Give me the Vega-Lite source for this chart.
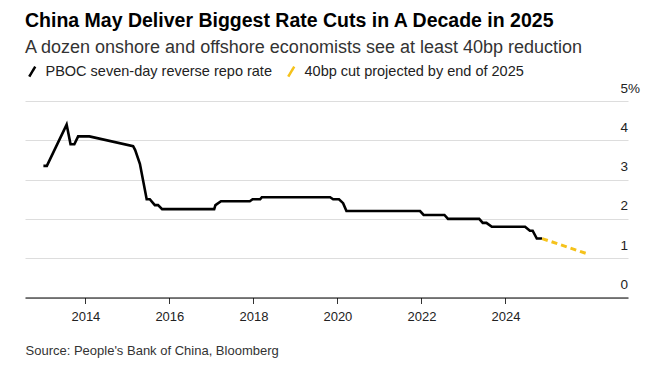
{
  "$schema": "https://vega.github.io/schema/vega-lite/v6.json",
  "width": 603,
  "height": 196.5,
  "autosize": {"type": "none"},
  "padding": {"left": 25, "top": 101, "right": 25, "bottom": 84.5},
  "background": "white",
  "title": {
    "text": "China May Deliver Biggest Rate Cuts in A Decade in 2025",
    "subtitle": "A dozen onshore and offshore economists see at least 40bp reduction",
    "anchor": "start",
    "frame": "group",
    "font": "Liberation Sans",
    "fontSize": 19.5,
    "fontWeight": "bold",
    "color": "#000000",
    "subtitleFont": "Liberation Sans",
    "subtitleFontSize": 18,
    "subtitleColor": "#333333",
    "subtitlePadding": 8,
    "offset": 6
  },
  "config": {
    "view": {"stroke": null},
    "font": "Liberation Sans"
  },
  "datasets": {
    "rates": [
      {"date": "2013-01-01", "rate": 3.35, "series": "PBOC seven-day reverse repo rate"},
      {"date": "2013-01-31", "rate": 3.35, "series": "PBOC seven-day reverse repo rate"},
      {"date": "2013-07-22", "rate": 4.4, "series": "PBOC seven-day reverse repo rate"},
      {"date": "2013-08-25", "rate": 3.9, "series": "PBOC seven-day reverse repo rate"},
      {"date": "2013-09-27", "rate": 3.9, "series": "PBOC seven-day reverse repo rate"},
      {"date": "2013-10-30", "rate": 4.1, "series": "PBOC seven-day reverse repo rate"},
      {"date": "2014-02-05", "rate": 4.1, "series": "PBOC seven-day reverse repo rate"},
      {"date": "2015-02-20", "rate": 3.85, "series": "PBOC seven-day reverse repo rate"},
      {"date": "2015-03-10", "rate": 3.75, "series": "PBOC seven-day reverse repo rate"},
      {"date": "2015-04-20", "rate": 3.4, "series": "PBOC seven-day reverse repo rate"},
      {"date": "2015-06-18", "rate": 2.5, "series": "PBOC seven-day reverse repo rate"},
      {"date": "2015-07-15", "rate": 2.5, "series": "PBOC seven-day reverse repo rate"},
      {"date": "2015-08-28", "rate": 2.35, "series": "PBOC seven-day reverse repo rate"},
      {"date": "2015-09-25", "rate": 2.35, "series": "PBOC seven-day reverse repo rate"},
      {"date": "2015-10-30", "rate": 2.25, "series": "PBOC seven-day reverse repo rate"},
      {"date": "2017-01-25", "rate": 2.25, "series": "PBOC seven-day reverse repo rate"},
      {"date": "2017-02-05", "rate": 2.35, "series": "PBOC seven-day reverse repo rate"},
      {"date": "2017-03-25", "rate": 2.45, "series": "PBOC seven-day reverse repo rate"},
      {"date": "2017-12-01", "rate": 2.45, "series": "PBOC seven-day reverse repo rate"},
      {"date": "2017-12-25", "rate": 2.5, "series": "PBOC seven-day reverse repo rate"},
      {"date": "2018-03-01", "rate": 2.5, "series": "PBOC seven-day reverse repo rate"},
      {"date": "2018-03-15", "rate": 2.55, "series": "PBOC seven-day reverse repo rate"},
      {"date": "2019-10-30", "rate": 2.55, "series": "PBOC seven-day reverse repo rate"},
      {"date": "2019-11-25", "rate": 2.5, "series": "PBOC seven-day reverse repo rate"},
      {"date": "2020-01-15", "rate": 2.5, "series": "PBOC seven-day reverse repo rate"},
      {"date": "2020-02-20", "rate": 2.4, "series": "PBOC seven-day reverse repo rate"},
      {"date": "2020-03-20", "rate": 2.2, "series": "PBOC seven-day reverse repo rate"},
      {"date": "2021-12-20", "rate": 2.2, "series": "PBOC seven-day reverse repo rate"},
      {"date": "2022-01-20", "rate": 2.1, "series": "PBOC seven-day reverse repo rate"},
      {"date": "2022-07-20", "rate": 2.1, "series": "PBOC seven-day reverse repo rate"},
      {"date": "2022-08-20", "rate": 2.0, "series": "PBOC seven-day reverse repo rate"},
      {"date": "2023-05-18", "rate": 2.0, "series": "PBOC seven-day reverse repo rate"},
      {"date": "2023-06-18", "rate": 1.9, "series": "PBOC seven-day reverse repo rate"},
      {"date": "2023-07-20", "rate": 1.9, "series": "PBOC seven-day reverse repo rate"},
      {"date": "2023-09-05", "rate": 1.8, "series": "PBOC seven-day reverse repo rate"},
      {"date": "2024-06-20", "rate": 1.8, "series": "PBOC seven-day reverse repo rate"},
      {"date": "2024-08-01", "rate": 1.7, "series": "PBOC seven-day reverse repo rate"},
      {"date": "2024-08-25", "rate": 1.7, "series": "PBOC seven-day reverse repo rate"},
      {"date": "2024-09-30", "rate": 1.5, "series": "PBOC seven-day reverse repo rate"},
      {"date": "2024-11-15", "rate": 1.5, "series": "PBOC seven-day reverse repo rate"}
    ],
    "projection": [
      {"date": "2024-11-15", "rate": 1.5, "series": "40bp cut projected by end of 2025"},
      {"date": "2025-12-25", "rate": 1.1, "series": "40bp cut projected by end of 2025"}
    ]
  },
  "encoding": {
    "x": {
      "field": "date",
      "type": "temporal",
      "scale": {"domain": ["2012-07-25", "2026-12-02"]},
      "axis": {
        "values": [{"year": 2014}, {"year": 2016}, {"year": 2018}, {"year": 2020}, {"year": 2022}, {"year": 2024}],
        "format": "%Y",
        "grid": false,
        "domainColor": "#000000",
        "domainWidth": 1,
        "tickColor": "#333333",
        "tickSize": 6,
        "labelFontSize": 13,
        "labelColor": "#222222",
        "labelPadding": 7,
        "title": "Source: People's Bank of China, Bloomberg",
        "titleAnchor": "start",
        "titleAlign": "left",
        "titleFontWeight": "normal",
        "titleFontSize": 13,
        "titleColor": "#333333",
        "titlePadding": 21
      }
    },
    "y": {
      "field": "rate",
      "type": "quantitative",
      "scale": {"domain": [0, 5]},
      "axis": {
        "orient": "right",
        "values": [0, 1, 2, 3, 4, 5],
        "labelExpr": "datum.value == 5 ? '5%' : datum.label",
        "domain": false,
        "ticks": false,
        "gridColor": "#dddddd",
        "gridWidth": 1,
        "labelAlign": "left",
        "labelPadding": -8,
        "labelBaseline": "alphabetic",
        "labelOffset": -9,
        "labelFontSize": 13.5,
        "labelColor": "#222222",
        "title": null
      }
    },
    "color": {
      "field": "series",
      "type": "nominal",
      "scale": {
        "domain": ["PBOC seven-day reverse repo rate", "40bp cut projected by end of 2025"],
        "range": ["#000000", "#f5c21b"]
      },
      "legend": {
        "orient": "none",
        "legendX": 0,
        "legendY": -37,
        "direction": "horizontal",
        "title": null,
        "symbolType": "M-0.6,1L0.6,-1",
        "symbolSize": 100,
        "symbolStrokeWidth": 2.5,
        "symbolDash": [1, 0],
        "labelFontSize": 14.5,
        "labelLimit": 0,
        "labelColor": "#222222",
        "columnPadding": 11,
        "labelOffset": 6
      }
    }
  },
  "layer": [
    {
      "data": {"name": "rates"},
      "mark": {"type": "line", "strokeWidth": 2.6, "strokeJoin": "miter", "interpolate": "linear"}
    },
    {
      "data": {"name": "projection"},
      "mark": {"type": "line", "strokeWidth": 3, "strokeDash": [6, 4]}
    }
  ]
}
